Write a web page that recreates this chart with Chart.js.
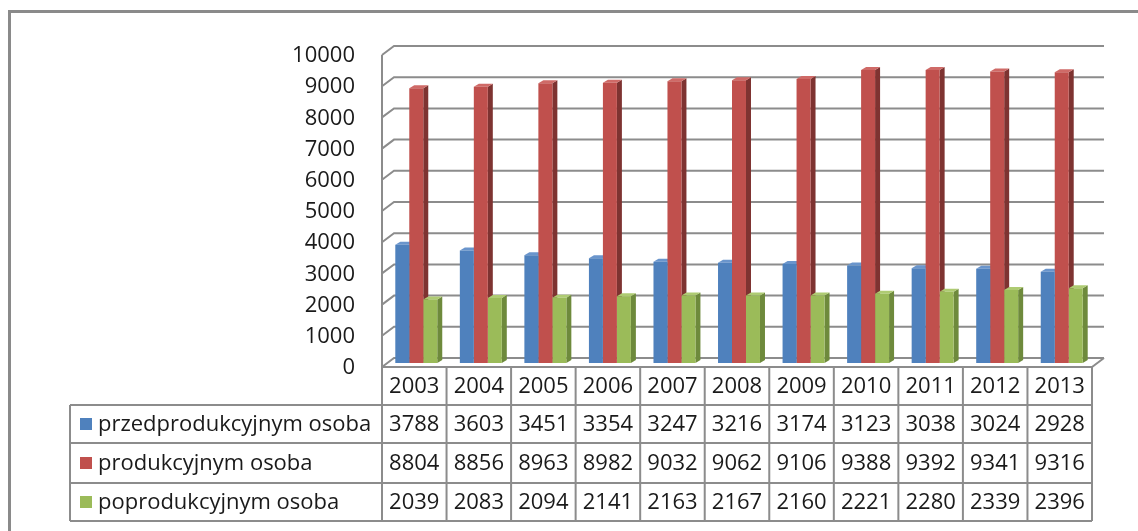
<!DOCTYPE html>
<html>
<head>
<meta charset="utf-8">
<script src="https://cdn.jsdelivr.net/npm/chart.js@4.4.1/dist/chart.umd.min.js"></script>
<style>
  body { margin: 0; background: #fff; }
  #wrap { position: relative; width: 1138px; height: 531px; }
</style>
</head>
<body>
<div id="wrap"><canvas id="statusGraph"></canvas></div>
<script>
// data
const years = ['2003', '2004', '2005', '2006', '2007', '2008', '2009', '2010', '2011', '2012', '2013'];
const seriesNames = ['przedprodukcyjnym osoba', 'produkcyjnym osoba', 'poprodukcyjnym osoba'];
const przedprodukcyjny = [3788, 3603, 3451, 3354, 3247, 3216, 3174, 3123, 3038, 3024, 2928];
const produkcyjny = [8804, 8856, 8963, 8982, 9032, 9062, 9106, 9388, 9392, 9341, 9316];
const poprodukcyjny = [2039, 2083, 2094, 2141, 2163, 2167, 2160, 2221, 2280, 2339, 2396];
const yTicks = [0, 1000, 2000, 3000, 4000, 5000, 6000, 7000, 8000, 9000, 10000];

const front = ['#4F81BD', '#C0504D', '#9BBB59'];
const side = ['#385D8A', '#7E3331', '#6E8A3C'];
const top_ = ['#6A95CC', '#CF6A67', '#AECB72'];
const FONT = '"Open Sans", "Liberation Sans", sans-serif';
const FSIZE = 22;
const lineGray = '#8c8c8c';

const pseudo3d = {
    id: 'pseudo3d',
    beforeDraw(chart) {
        const ctx = chart.ctx;
        ctx.save();
        ctx.strokeStyle = '#8a8a8a';
        ctx.lineWidth = 3;
        ctx.beginPath();
        ctx.moveTo(9.5, 531);
        ctx.lineTo(9.5, 11.5);
        ctx.lineTo(1138, 11.5);
        ctx.stroke();
        ctx.restore();
    },
    beforeDatasetsDraw(chart) {
        const ctx = chart.ctx;
        const y = chart.scales.y;
        const area = chart.chartArea;
        const L = area.left - 2, R = area.right - 2;
        ctx.save();
        ctx.strokeStyle = lineGray;
        ctx.lineWidth = 2;
        // back wall gridlines with the slanted left end
        yTicks.forEach(v => {
            const yb = y.getPixelForValue(v);
            ctx.beginPath();
            ctx.moveTo(L, yb + 4);
            ctx.lineTo(L + 12, yb - 5);
            ctx.lineTo(R + 12, yb - 5);
            ctx.stroke();
        });
        const y0 = y.getPixelForValue(0);
        ctx.beginPath();
        ctx.moveTo(L, y.getPixelForValue(10000) + 4);
        ctx.lineTo(L, 521);
        ctx.moveTo(L, y0 + 4);
        ctx.lineTo(R, y0 + 4);
        ctx.lineTo(R + 12, y0 - 5);
        ctx.stroke();

        // side and top faces, drawn before the fronts so neighbours hide them
        chart.data.datasets.forEach((ds, di) => {
            chart.getDatasetMeta(di).data.forEach(el => {
                const x0 = el.x - el.width / 2, x1 = el.x + el.width / 2;
                const yt = el.y, yb = el.base;
                ctx.fillStyle = side[di];
                ctx.beginPath();
                ctx.moveTo(x1, yt); ctx.lineTo(x1 + 5, yt - 3);
                ctx.lineTo(x1 + 5, yb - 3); ctx.lineTo(x1, yb);
                ctx.closePath(); ctx.fill();
                ctx.fillStyle = top_[di];
                ctx.beginPath();
                ctx.moveTo(x0, yt); ctx.lineTo(x1, yt);
                ctx.lineTo(x1 + 5, yt - 3); ctx.lineTo(x0 + 5, yt - 3);
                ctx.closePath(); ctx.fill();
            });
        });
        ctx.restore();
    },
    afterDraw(chart) {
        // data table under the plot
        const ctx = chart.ctx;
        const y = chart.scales.y;
        const area = chart.chartArea;
        const L = area.left - 2, R = area.right - 2;
        const w = (R - L) / years.length;
        const topY = y.getPixelForValue(0) + 4;
        const rows = [405, 443, 483, 521];
        const legendLeft = 70;
        const values = [przedprodukcyjny, produkcyjny, poprodukcyjny];

        ctx.save();
        ctx.strokeStyle = lineGray;
        ctx.lineWidth = 2;
        ctx.beginPath();
        for (let i = 0; i <= years.length; i++) {
            ctx.moveTo(L + i * w, topY);
            ctx.lineTo(L + i * w, rows[3]);
        }
        rows.forEach(r => { ctx.moveTo(legendLeft, r); ctx.lineTo(R, r); });
        ctx.moveTo(legendLeft, rows[0]);
        ctx.lineTo(legendLeft, rows[3]);
        ctx.stroke();

        ctx.fillStyle = '#1a1a1a';
        ctx.font = FSIZE + 'px ' + FONT;
        ctx.textBaseline = 'middle';
        ctx.textAlign = 'center';
        years.forEach((yr, i) => {
            ctx.fillText(yr, L + (i + 0.5) * w, (topY + rows[0]) / 2 + 1);
        });
        values.forEach((arr, si) => {
            const cy = (rows[si] + rows[si + 1]) / 2 + 1;
            arr.forEach((v, i) => {
                ctx.fillText(String(v), L + (i + 0.5) * w, cy);
            });
        });
        ctx.textAlign = 'left';
        seriesNames.forEach((name, si) => {
            const cy = (rows[si] + rows[si + 1]) / 2;
            ctx.fillStyle = front[si];
            ctx.fillRect(80, cy - 6, 12, 12);
            ctx.fillStyle = '#1a1a1a';
            ctx.fillText(name, 98, cy + 1);
        });
        ctx.restore();
    }
};

const ctx = document.getElementById('statusGraph').getContext('2d');
const chart = new Chart(ctx, {
    type: 'bar',
    data: {
        labels: years,
        datasets: [
            { label: seriesNames[0], data: przedprodukcyjny, backgroundColor: front[0] },
            { label: seriesNames[1], data: produkcyjny, backgroundColor: front[1] },
            { label: seriesNames[2], data: poprodukcyjny, backgroundColor: front[2] }
        ]
    },
    options: {
        responsive: true,
        maintainAspectRatio: false,
        animation: false,
        devicePixelRatio: 1,
        layout: { padding: { top: 51, right: 44, bottom: 168, left: 0 } },
        datasets: { bar: { categoryPercentage: 0.65, barPercentage: 1.0, borderWidth: 0 } },
        plugins: { legend: { display: false }, tooltip: { enabled: false } },
        scales: {
            x: { display: false },
            y: {
                min: 0,
                max: 10000,
                afterFit(scale) { scale.width = 384; },
                grid: { display: false, drawTicks: false },
                border: { display: false },
                ticks: {
                    stepSize: 1000,
                    padding: 29,
                    labelOffset: 5,
                    color: '#1a1a1a',
                    font: { family: FONT, size: FSIZE },
                    callback: v => String(v)
                }
            }
        }
    },
    plugins: [pseudo3d]
});
</script>
</body>
</html>
